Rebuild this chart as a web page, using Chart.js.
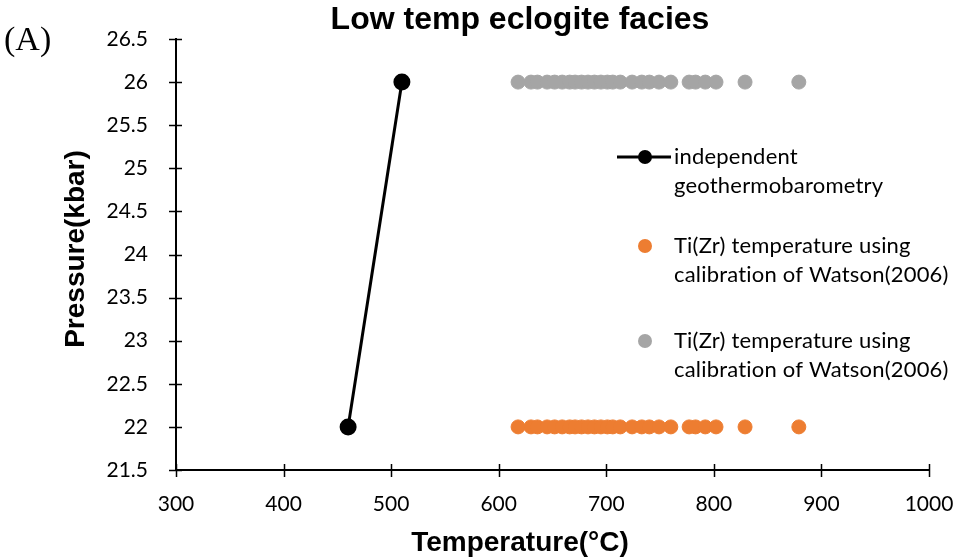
<!DOCTYPE html>
<html>
<head>
<meta charset="utf-8">
<script src="https://cdn.jsdelivr.net/npm/chart.js@4.4.1/dist/chart.umd.min.js"></script>
<style>
  html, body { margin: 0; padding: 0; background: #fff; }
  #wrap { width: 959px; height: 559px; }
</style>
</head>
<body>
<div id="wrap"><canvas id="chart" width="959" height="559"></canvas></div>
<script>
// independent geothermobarometry: two P-T points joined by a line
const indepTemp = [460, 510];
const indepPress = [22, 26];

// Ti(Zr) temperatures, plotted at 22 kbar and again at 26 kbar
const tiZrTemp = [618, 630, 636, 645, 652, 659, 666, 671, 677, 683, 689, 695, 701, 706, 713,
                  724, 733, 740, 749, 760, 777, 783, 792, 802, 829, 879];
const lowPress = 22;
const highPress = 26;

const xTicks = [300, 400, 500, 600, 700, 800, 900, 1000];
const yTicks = [21.5, 22, 22.5, 23, 23.5, 24, 24.5, 25, 25.5, 26, 26.5];

const labelFont = "Lato, 'Open Sans', sans-serif";
const headFont = "'Liberation Sans', Arial, sans-serif";

function toPoints(xs, ys) {
  return xs.map((x, i) => ({ x: x, y: Array.isArray(ys) ? ys[i] : ys }));
}

// ticks that straddle each axis line
const crossTicks = {
  id: 'crossTicks',
  afterDraw(chart) {
    const ctx = chart.ctx;
    const xs = chart.scales.x, ys = chart.scales.y;
    const a = chart.chartArea;
    ctx.save();
    ctx.strokeStyle = '#000';
    ctx.lineWidth = 1.5;
    ctx.beginPath();
    xTicks.forEach(v => {
      const px = Math.round(xs.getPixelForValue(v)) + 0.5;
      ctx.moveTo(px, a.bottom - 6);
      ctx.lineTo(px, a.bottom + 7);
    });
    yTicks.forEach(v => {
      const py = Math.round(ys.getPixelForValue(v)) + 0.5;
      ctx.moveTo(a.left - 7, py);
      ctx.lineTo(a.left + 6, py);
    });
    ctx.stroke();
    ctx.restore();
  }
};

// headings, panel letter and the legend placed inside the plot
const annotations = {
  id: 'annotations',
  afterDraw(chart) {
    const ctx = chart.ctx;
    ctx.save();
    ctx.fillStyle = '#000';
    ctx.textBaseline = 'middle';

    ctx.textAlign = 'center';
    ctx.font = 'bold 32px ' + headFont;
    ctx.fillText('Low temp eclogite facies', 520, 20);
    ctx.font = 'bold 28px ' + headFont;
    ctx.fillText('Temperature(\u00B0C)', 520, 543);

    ctx.save();
    ctx.translate(76, 249);
    ctx.rotate(-Math.PI / 2);
    ctx.fillText('Pressure(kbar)', 0, 0);
    ctx.restore();

    ctx.textAlign = 'left';
    ctx.font = "34px 'Liberation Serif', 'Times New Roman', serif";
    ctx.fillText('(A)', 4, 41);

    // legend
    const rows = [
      { y: 157, ds: 0 },
      { y: 246, ds: 1 },
      { y: 341, ds: 2 }
    ];
    ctx.font = '22px ' + labelFont;
    ctx.letterSpacing = '0.2px';
    rows.forEach(r => {
      const ds = chart.data.datasets[r.ds];
      if (ds.showLine) {
        ctx.strokeStyle = ds.borderColor;
        ctx.lineWidth = 3;
        ctx.beginPath();
        ctx.moveTo(617, r.y);
        ctx.lineTo(671, r.y);
        ctx.stroke();
      }
      ctx.fillStyle = ds.pointBackgroundColor;
      ctx.beginPath();
      ctx.arc(645, r.y, 7, 0, Math.PI * 2);
      ctx.fill();
      ctx.fillStyle = '#000';
      ds.label.forEach((line, i) => ctx.fillText(line, 674, r.y + i * 29));
    });
    ctx.restore();
  }
};

new Chart(document.getElementById('chart'), {
  type: 'scatter',
  data: {
    datasets: [
      {
        label: ['independent', 'geothermobarometry'],
        data: toPoints(indepTemp, indepPress),
        showLine: true,
        borderColor: '#000',
        borderWidth: 3,
        pointBackgroundColor: '#000',
        pointBorderColor: '#000',
        pointRadius: 7,
        order: 0
      },
      {
        label: ['Ti(Zr) temperature using', 'calibration of Watson(2006)'],
        data: toPoints(tiZrTemp, lowPress),
        pointBackgroundColor: '#ED7D31',
        pointBorderColor: '#ED7D31',
        backgroundColor: '#ED7D31',
        pointRadius: 7,
        order: 1
      },
      {
        label: ['Ti(Zr) temperature using', 'calibration of Watson(2006)'],
        data: toPoints(tiZrTemp, highPress),
        pointBackgroundColor: '#A5A5A5',
        pointBorderColor: '#A5A5A5',
        backgroundColor: '#A5A5A5',
        pointRadius: 7,
        order: 2
      }
    ]
  },
  options: {
    responsive: false,
    animation: false,
    layout: { padding: { top: 39, right: 30, left: 0, bottom: 0 } },
    plugins: {
      legend: { display: false },
      tooltip: { enabled: false }
    },
    scales: {
      x: {
        type: 'linear',
        min: 300,
        max: 1000,
        afterBuildTicks: s => { s.ticks = xTicks.map(v => ({ value: v })); },
        afterFit: s => { s.height = 89; s.paddingLeft = 0; s.paddingRight = 0; },
        grid: { display: false },
        border: { display: true, color: '#000', width: 2 },
        ticks: { color: '#000', font: { family: labelFont, size: 21 }, padding: 14,
                 callback: v => String(v) }
      },
      y: {
        type: 'linear',
        min: 21.5,
        max: 26.5,
        afterBuildTicks: s => { s.ticks = yTicks.map(v => ({ value: v })); },
        afterFit: s => { s.width = 176; s.paddingTop = 0; s.paddingBottom = 0; },
        grid: { display: false },
        border: { display: true, color: '#000', width: 2 },
        ticks: { color: '#000', font: { family: labelFont, size: 21 }, padding: 20,
                 callback: v => String(v) }
      }
    }
  },
  plugins: [crossTicks, annotations]
});
</script>
</body>
</html>
